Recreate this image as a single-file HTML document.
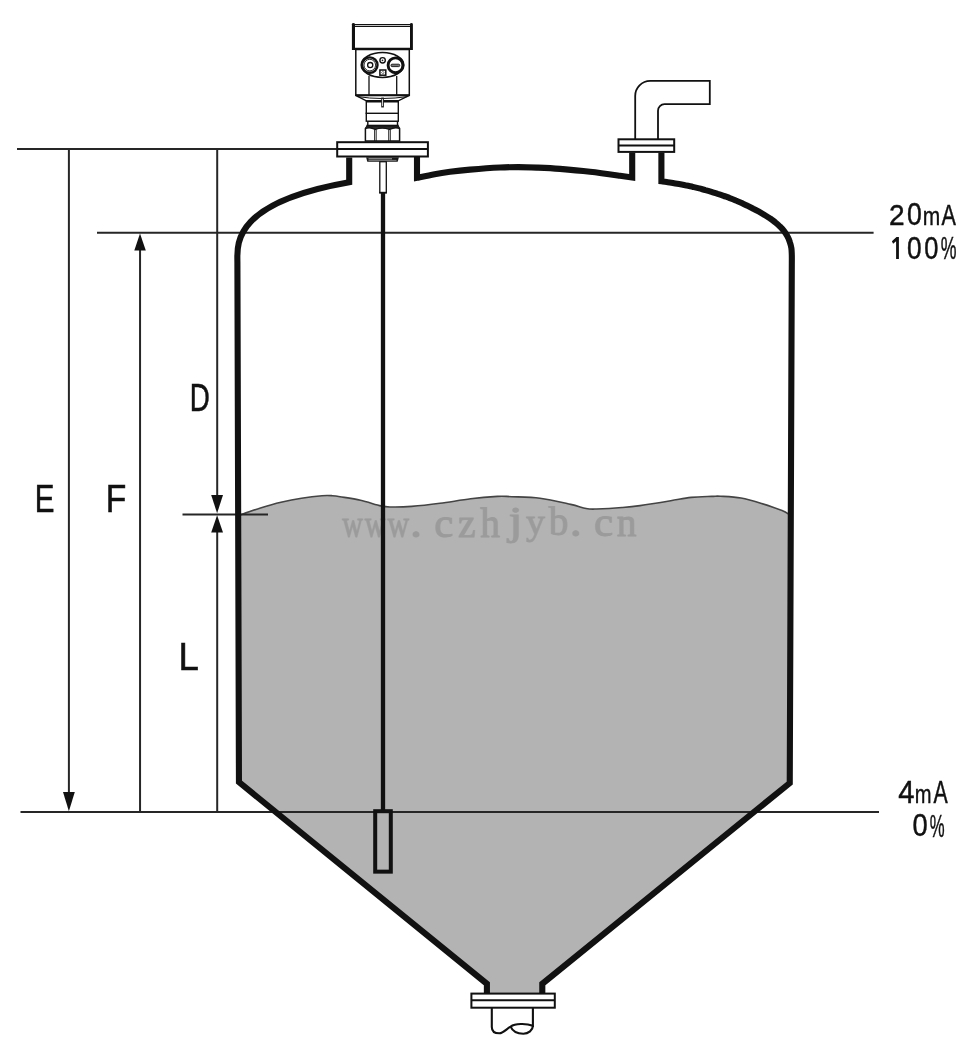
<!DOCTYPE html>
<html><head><meta charset="utf-8"><style>
html,body{margin:0;padding:0;background:#fff;overflow:hidden;}
svg{display:block;filter:grayscale(1);}
</style></head><body>
<svg width="976" height="1051" viewBox="0 0 976 1051">
<rect width="976" height="1051" fill="#fff"/>
<path d="M240.0,515.0 C243.4,513.8 253.7,510.1 260.5,508.0 C267.3,505.9 274.2,503.9 281.0,502.3 C287.8,500.7 294.7,499.3 301.5,498.2 C308.3,497.1 316.9,496.1 322.0,495.7 C327.1,495.3 329.2,495.5 332.2,495.7 C335.2,495.9 335.3,495.9 340.0,496.7 C344.7,497.5 353.7,498.8 360.5,500.3 C367.3,501.8 375.9,504.8 381.0,505.9 C386.1,507.0 386.1,506.9 391.2,507.0 C396.3,507.1 403.6,507.0 411.7,506.4 C419.8,505.8 430.2,504.6 440.0,503.3 C449.8,502.0 461.1,500.0 470.7,498.8 C480.3,497.6 490.6,496.8 497.4,496.4 C504.2,496.0 504.6,496.4 511.7,496.7 C518.8,497.0 530.2,496.9 540.0,498.2 C549.8,499.5 563.0,502.7 570.7,504.4 C578.4,506.1 581.8,507.7 586.1,508.5 C590.4,509.3 590.4,509.2 596.4,509.0 C602.4,508.8 614.7,508.1 622.0,507.5 C629.3,506.9 631.9,506.7 640.0,505.6 C648.1,504.5 662.2,502.2 670.7,500.8 C679.2,499.4 684.4,498.1 691.2,497.4 C698.0,496.7 706.8,496.6 711.7,496.4 C716.6,496.2 715.6,495.9 720.5,496.2 C725.4,496.5 734.2,496.8 741.0,498.0 C747.8,499.2 754.7,501.3 761.5,503.4 C768.3,505.5 777.3,508.6 782.0,510.5 C786.7,512.4 788.2,514.1 789.5,514.8 L789.75,783 L542.3,983.8 L542.3,994 L486.9,994 L486.9,983.8 L239.2,782.1 Z" fill="#b3b3b3"/>
<g font-family="Liberation Serif, serif" font-size="200" fill="#9b9b9b" stroke="#9b9b9b" stroke-width="4.5" opacity="0.999">
<text transform="translate(342.28,537.13) scale(0.1419,0.1929)">w</text>
<text transform="translate(364.69,537.13) scale(0.1432,0.1929)">w</text>
<text transform="translate(387.40,537.13) scale(0.1493,0.1929)">w</text>
<text transform="translate(410.07,536.81) scale(0.2393,0.2179)">.</text>
<text transform="translate(434.33,536.96) scale(0.2138,0.2090)">c</text>
<text transform="translate(458.11,536.80) scale(0.1976,0.2000)">z</text>
<text transform="translate(480.20,536.78) scale(0.1970,0.2091)">h</text>
<text transform="translate(508.39,534.17) scale(0.2549,0.1961)">j</text>
<text transform="translate(526.10,534.24) scale(0.1891,0.1813)">y</text>
<text transform="translate(548.69,535.49) scale(0.1959,0.2034)">b</text>
<text transform="translate(569.67,535.79) scale(0.2393,0.2214)">.</text>
<text transform="translate(593.92,536.06) scale(0.2150,0.2090)">c</text>
<text transform="translate(616.71,535.89) scale(0.1969,0.2051)">n</text>
</g>
<path d="M240.0,515.0 C243.4,513.8 253.7,510.1 260.5,508.0 C267.3,505.9 274.2,503.9 281.0,502.3 C287.8,500.7 294.7,499.3 301.5,498.2 C308.3,497.1 316.9,496.1 322.0,495.7 C327.1,495.3 329.2,495.5 332.2,495.7 C335.2,495.9 335.3,495.9 340.0,496.7 C344.7,497.5 353.7,498.8 360.5,500.3 C367.3,501.8 375.9,504.8 381.0,505.9 C386.1,507.0 386.1,506.9 391.2,507.0 C396.3,507.1 403.6,507.0 411.7,506.4 C419.8,505.8 430.2,504.6 440.0,503.3 C449.8,502.0 461.1,500.0 470.7,498.8 C480.3,497.6 490.6,496.8 497.4,496.4 C504.2,496.0 504.6,496.4 511.7,496.7 C518.8,497.0 530.2,496.9 540.0,498.2 C549.8,499.5 563.0,502.7 570.7,504.4 C578.4,506.1 581.8,507.7 586.1,508.5 C590.4,509.3 590.4,509.2 596.4,509.0 C602.4,508.8 614.7,508.1 622.0,507.5 C629.3,506.9 631.9,506.7 640.0,505.6 C648.1,504.5 662.2,502.2 670.7,500.8 C679.2,499.4 684.4,498.1 691.2,497.4 C698.0,496.7 706.8,496.6 711.7,496.4 C716.6,496.2 715.6,495.9 720.5,496.2 C725.4,496.5 734.2,496.8 741.0,498.0 C747.8,499.2 754.7,501.3 761.5,503.4 C768.3,505.5 777.3,508.6 782.0,510.5 C786.7,512.4 788.2,514.1 789.5,514.8" fill="none" stroke="#444" stroke-width="1.6"/>
<g stroke="#262626" stroke-width="2" fill="none">
<line x1="17" y1="149" x2="337" y2="149"/>
<line x1="97" y1="232.85" x2="873.6" y2="232.85"/>
<line x1="20.5" y1="812" x2="879" y2="812"/>
<line x1="68.9" y1="149" x2="68.9" y2="795"/>
<line x1="140.05" y1="248" x2="140.05" y2="812"/>
<line x1="217.2" y1="149" x2="217.2" y2="497"/>
<line x1="217.2" y1="530" x2="217.2" y2="812"/>
<line x1="182.5" y1="514.4" x2="268" y2="514.4"/>
</g>
<g fill="#111">
<path d="M68.9,811.2 L63,792 L74.8,792 Z"/>
<path d="M140,233.6 L134.3,250.5 L145.8,250.5 Z"/>
<path d="M217.1,513.3 L211.2,495 L223,495 Z"/>
<path d="M217.1,515.3 L211.2,532.6 L223,532.6 Z"/>
</g>
<g stroke="#111" stroke-width="6.1" fill="none" stroke-linejoin="miter" stroke-miterlimit="10">
<path d="M349.2,157.5 L349.2,182.2 C230.5,203.0 237.4,245.8 237.4,262 L238.95,782.1 L486.9,983.8 L486.9,993"/>
<path d="M542.3,993 L542.3,983.8 L789.75,783 L791.8,265  C791.8,263.3 791.9,257.8 791.8,255.0 C791.7,252.2 791.7,250.3 791.4,248.2 C791.0,246.0 790.5,244.0 789.8,242.0 C789.2,240.0 788.4,238.1 787.4,236.3 C786.4,234.5 785.3,232.8 784.1,231.2 C782.8,229.5 781.5,228.0 780.0,226.6 C778.5,225.1 777.0,223.7 775.3,222.4 C773.7,221.0 771.9,219.8 770.2,218.5 C768.4,217.3 766.6,216.2 764.7,215.0 C762.8,213.9 760.9,212.8 759.0,211.7 C757.2,210.7 755.2,209.6 753.3,208.7 C751.4,207.7 749.5,206.7 747.5,205.8 C745.6,204.8 743.6,203.9 741.7,203.0 C739.7,202.1 737.7,201.3 735.8,200.5 C733.8,199.6 731.8,198.8 729.8,198.1 C727.8,197.3 725.8,196.6 723.7,195.8 C721.7,195.1 719.7,194.4 717.7,193.8 C715.6,193.1 713.6,192.5 711.5,191.8 C709.5,191.2 707.4,190.6 705.4,190.1 C703.3,189.5 701.3,189.0 699.2,188.4 C697.1,187.9 695.0,187.4 692.9,186.9 C690.9,186.5 688.8,186.0 686.7,185.6 C684.6,185.1 682.5,184.7 680.4,184.3 C678.3,183.9 676.2,183.6 674.1,183.2 C672.0,182.8 669.9,182.5 667.8,182.2 C665.6,181.9 662.5,181.4 661.4,181.3 L661.4,152.5"/>
<path d="M417,157 L417,177.8  C419.9,177.2 429.1,175.2 434.6,174.2 C440.1,173.2 444.1,172.6 450.0,171.8 C455.9,171.0 461.7,170.3 470.0,169.6 C478.3,168.9 491.9,167.9 500.0,167.5 C508.1,167.1 512.2,167.1 518.4,167.1 C524.5,167.1 530.0,167.3 536.9,167.6 C543.8,167.9 551.1,168.2 560.0,168.9 C568.9,169.6 580.0,170.6 590.0,171.8 C600.0,172.9 613.0,174.8 620.0,175.8 C627.0,176.7 630.2,177.1 632.2,177.4 L632.2,152.5"/>
</g>
<g stroke="#111" stroke-width="2" fill="#fff">
<rect x="337.2" y="142.2" width="90.7" height="14.3"/>
<line x1="337.2" y1="149" x2="427.9" y2="149"/>
<rect x="618.5" y="139.3" width="55.7" height="12.6"/>
<line x1="618.5" y1="145.5" x2="674.2" y2="145.5"/>
<rect x="471.4" y="993.6" width="83.4" height="14.1"/>
<line x1="471.4" y1="1000.2" x2="554.8" y2="1000.2"/>
</g>
<path d="M635.2,139 L635.2,96 A15,15 0 0 1 650.2,80.9 L709.8,80.9 L709.8,104.2 L664.5,104.2 A6.5,6.5 0 0 0 658,110.7 L658,139" fill="none" stroke="#111" stroke-width="1.8"/>
<path d="M491.8,1008 L491.8,1027 C491.8,1031 494.5,1033.3 499.3,1033.3 C503.5,1033.3 507,1028.5 510.6,1026.6 C515,1023.5 526,1023.2 532.9,1025.8 L532.9,1008" fill="none" stroke="#111" stroke-width="2.1"/>
<path d="M510.6,1026.6 C512.5,1031 517.5,1033.7 523.3,1033.7 C528.5,1033.7 532.9,1030 532.9,1025.8" fill="none" stroke="#111" stroke-width="2.1"/>
<rect x="379.8" y="161.7" width="6.5" height="31.1" fill="#fff" stroke="#111" stroke-width="1.3"/>
<line x1="379.2" y1="192.6" x2="386.8" y2="192.6" stroke="#111" stroke-width="1.6"/>
<line x1="383.0" y1="193" x2="383.0" y2="810" stroke="#111" stroke-width="4.3"/>
<rect x="375.2" y="811.2" width="15.6" height="60.45" fill="#b3b3b3" stroke="#111" stroke-width="4"/>
<path d="M366.1,157.3 L398.9,157.3 L397.7,161.7 L367.3,161.7 Z" fill="#1a1a1a"/>
<line x1="368.5" y1="158.8" x2="392" y2="158.8" stroke="#d8d8d8" stroke-width="0.8"/>
<line x1="368.5" y1="160.4" x2="396.5" y2="160.4" stroke="#aaa" stroke-width="0.7"/>
<path d="M365.4,141.1 L365.4,128.5 L367.8,125.3 L397.5,125.3 L399.6,128.5 L399.6,141.1 Z" stroke="#111" fill="#fff" stroke-width="1.5"/>
<path d="M365.4,128.5 L367.8,125.3 L397.5,125.3 L399.6,128.5 Q395,126.6 389.5,129.5 Q382,126.9 375.3,129.5 Q370,126.6 365.4,128.5 Z" fill="#2a2a2a"/>
<path d="M365.4,128.5 Q370,126.6 375.3,129.5 Q382,126.9 389.5,129.5 Q395,126.6 399.6,128.5" fill="none" stroke="#111" stroke-width="1.3"/>
<g stroke="#111" stroke-width="0.9"><line x1="374.6" y1="129.5" x2="374.6" y2="141"/><line x1="376.2" y1="129.5" x2="376.2" y2="141"/><line x1="388.7" y1="129.5" x2="388.7" y2="141"/><line x1="390.3" y1="129.5" x2="390.3" y2="141"/></g>
<line x1="366.5" y1="125.6" x2="398.5" y2="125.6" stroke="#111" stroke-width="1.6"/>
<rect x="367.8" y="121.2" width="29.7" height="4.2" stroke="#111" fill="#fff" stroke-width="1.4"/>
<rect x="366.3" y="113.3" width="32" height="7.9" stroke="#111" fill="#fff" stroke-width="1.4"/>
<rect x="366.3" y="101.3" width="32" height="12" stroke="#111" fill="#fff" stroke-width="1.4"/>
<line x1="366.3" y1="101.5" x2="398.3" y2="101.5" stroke="#111" stroke-width="2"/>
<path d="M355.7,95.3 L366.3,100.8 L398.3,100.8 L409.3,95.3 Z" stroke="#111" fill="#fff" stroke-width="1.4"/>
<path d="M357,96.5 Q382,100.5 408,96.5" fill="none" stroke="#111" stroke-width="1"/>
<rect x="381.7" y="98" width="1.7" height="9" fill="#fff" stroke="#111" stroke-width="0.9"/>
<rect x="355.8" y="49.5" width="53.5" height="45.8" stroke="#111" fill="#fff" stroke-width="1.5"/>
<line x1="355.8" y1="95.2" x2="409.3" y2="95.2" stroke="#111" stroke-width="2"/>
<line x1="369" y1="76" x2="369" y2="95" stroke="#111" stroke-width="1.3"/>
<line x1="396.7" y1="76" x2="396.7" y2="95" stroke="#111" stroke-width="1.3"/>
<ellipse cx="382.5" cy="65" rx="21.3" ry="12.4" stroke="#111" fill="#fff" stroke-width="1.5"/>
<circle cx="369.8" cy="65.1" r="7.7" fill="#fff" stroke="#111" stroke-width="2.4"/>
<circle cx="369.8" cy="65.1" r="5.8" fill="none" stroke="#111" stroke-width="0.9"/>
<circle cx="370.2" cy="65.1" r="2.6" fill="none" stroke="#111" stroke-width="1.3"/>
<circle cx="395.5" cy="65.3" r="7.4" fill="#fff" stroke="#111" stroke-width="2.9"/>
<rect x="391" y="64.2" width="8.7" height="2.4" rx="1" fill="#777" stroke="#111" stroke-width="0.9"/>
<circle cx="382.6" cy="60.3" r="2.7" fill="#fff" stroke="#111" stroke-width="1.4"/>
<circle cx="382.5" cy="60.3" r="0.9" fill="#222"/>
<rect x="379.9" y="70" width="5.9" height="5.2" fill="#fff" stroke="#111" stroke-width="1.5"/>
<path d="M382.8,71.4 L384.3,72.6 L382.8,73.9 L381.4,72.6 Z" fill="none" stroke="#555" stroke-width="0.8"/>
<rect x="353.4" y="25.3" width="57.9" height="23.6" fill="#fff" stroke="none"/>
<line x1="353" y1="24.7" x2="411.6" y2="24.7" stroke="#111" stroke-width="1.3"/>
<line x1="353" y1="26.5" x2="411.6" y2="26.5" stroke="#111" stroke-width="1.2"/>
<line x1="353" y1="48.9" x2="411.6" y2="48.9" stroke="#111" stroke-width="2.2"/>
<path d="M351.9,24.2 Q351.9,23.1 353.4,23.1 Q355,23.1 355,24.5 L355,49.9 L351.9,49.9 Z" fill="#111"/>
<path d="M410,24.2 Q410,23.1 411.4,23.1 Q412.9,23.1 412.9,24.5 L412.9,49.9 L410,49.9 Z" fill="#111"/>
<g font-family="Liberation Sans, sans-serif" fill="#111" stroke="#111" stroke-width="3" font-size="200" opacity="0.999">
<text transform="translate(889.04,224.75) scale(0.1404,0.1521)">2</text>
<text transform="translate(907.00,224.84) scale(0.1333,0.1528)">0</text>
<text transform="translate(922.84,224.67) scale(0.1049,0.1264)">m</text>
<text transform="translate(941.52,224.50) scale(0.1080,0.1511)">A</text>
<text transform="translate(907.01,259.03) scale(0.1313,0.1556)">0</text>
<text transform="translate(924.24,259.03) scale(0.1273,0.1556)">0</text>
<text transform="translate(940.77,258.69) scale(0.0886,0.1538)">%</text>
<text transform="translate(898.26,802.69) scale(0.1462,0.1567)">4</text>
<text transform="translate(914.69,802.87) scale(0.1007,0.1336)">m</text>
<text transform="translate(933.41,802.69) scale(0.1066,0.1567)">A</text>
<text transform="translate(912.58,836.44) scale(0.1364,0.1528)">0</text>
<text transform="translate(929.70,836.59) scale(0.0837,0.1538)">%</text>
<text transform="translate(34.78,511.71) scale(0.1477,0.1929)">E</text>
<text transform="translate(105.63,511.61) scale(0.1683,0.1921)">F</text>
<text transform="translate(189.72,410.51) scale(0.1388,0.1907)">D</text>
<text transform="translate(178.51,669.61) scale(0.1830,0.1921)">L</text>
<path d="M896.5,237.1 L898.9,237.1 L898.9,258.9 L896.1,258.9 L896.1,241.2 L893.1,243.7 L891.9,241.2 Z" stroke="none"/>
</g>
</svg>
</body></html>
